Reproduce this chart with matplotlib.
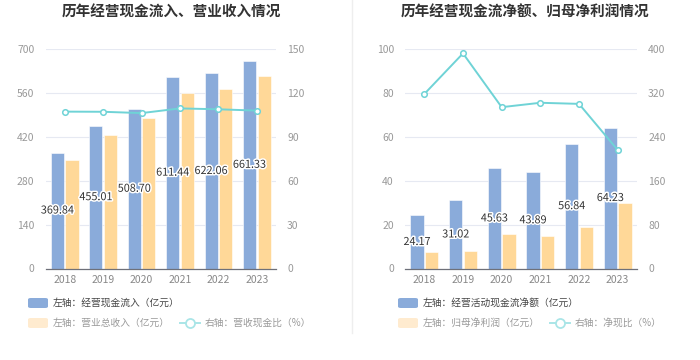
import matplotlib
matplotlib.use("Agg")
import matplotlib.pyplot as plt
import matplotlib.patheffects as pe
from matplotlib.patches import FancyBboxPatch
from matplotlib.lines import Line2D
import numpy as np

plt.rcParams['font.family'] = ['Noto Sans CJK SC', 'DejaVu Sans']

years = ['2018', '2019', '2020', '2021', '2022', '2023']
# left panel
cash_inflow = [369.84, 455.01, 508.70, 611.44, 622.06, 661.33]
revenue = [345, 425, 479, 559, 572, 613]
cash_rev_ratio = [107.2, 107.1, 106.2, 109.4, 108.8, 107.9]
# right panel
op_cash_net = [24.17, 31.02, 45.63, 43.89, 56.84, 64.23]
net_profit = [7.6, 7.9, 15.6, 14.6, 19.1, 30.0]
net_cash_ratio = [318, 392, 294, 302, 300, 216]

left_ticks = [0, 140, 280, 420, 560, 700]
left_rticks = [0, 30, 60, 90, 120, 150]
right_ticks = [0, 20, 40, 60, 80, 100]
right_rticks = [0, 80, 160, 240, 320, 400]

BLUE = '#8AABDA'
YELLOW = '#FFD898'
TEAL = '#6FD3D6'
GRID = '#E6E9F2'
TICK = '#999999'

fig = plt.figure(figsize=(7, 3.6), dpi=100)

W, H = 700, 360

def fx(px):
    return px / W

def fy(py):
    return 1 - py / H


def panel(x0, x1, title, bars_a, bars_b, line, lt, rt, title_x):
    ax = fig.add_axes([fx(x0), fy(268.5), fx(x1 - x0), fy(49) - fy(268.5)])
    ax2 = ax.twinx()
    x = np.arange(len(years))
    bw = 0.34
    off = 0.19
    ax.bar(x - off, bars_a, width=bw, color=BLUE, edgecolor='white', linewidth=0.4, zorder=2)
    ax.bar(x + off, bars_b, width=bw, color=YELLOW, edgecolor='white', linewidth=0.4, zorder=2)
    for xi, v in zip(x, bars_a):
        ax.text(xi - off, v / 2, f'{v:.2f}', ha='center', va='center', fontsize=7.8,
                color='#333333', zorder=5,
                path_effects=[pe.withStroke(linewidth=2.2, foreground='white')])
    ax.set_xlim(-0.5, len(years) - 0.5)
    ax.set_ylim(lt[0], lt[-1])
    ax.set_yticks(lt)
    ax.set_xticks(x)
    ax.set_xticklabels(years)
    ax2.plot(x, line, color=TEAL, linewidth=1.4, marker='o', markersize=4,
             markerfacecolor='white', markeredgecolor=TEAL, markeredgewidth=1.1, zorder=4)
    ax2.set_ylim(rt[0], rt[-1])
    ax2.set_yticks(rt)
    ax.set_zorder(ax2.get_zorder() - 1) if False else None
    ax.grid(axis='y', color=GRID, linewidth=0.8, zorder=0)
    ax.set_axisbelow(True)
    for a in (ax, ax2):
        for s in ['top', 'right', 'left']:
            a.spines[s].set_visible(False)
        a.spines['bottom'].set_visible(False)
        a.tick_params(axis='y', length=0, labelsize=7.5, labelcolor=TICK, pad=8)
    ax.spines['bottom'].set_visible(True)
    ax.spines['bottom'].set_color('#6E7079')
    ax.spines['bottom'].set_linewidth(0.9)
    ax.tick_params(axis='x', length=0, labelsize=7.5, labelcolor='#888888', pad=5)
    ax2.tick_params(axis='y', pad=8)
    fig.text(fx(title_x), fy(12), title, ha='center', va='center', fontsize=10.5,
             fontweight='bold', color='#333333')
    return ax, ax2


panel(45.5, 276, '历年经营现金流入、营业收入情况', cash_inflow, revenue, cash_rev_ratio,
      left_ticks, left_rticks, 171)
panel(405, 637, '历年经营现金流净额、归母净利润情况', op_cash_net, net_profit, net_cash_ratio,
      right_ticks, right_rticks, 525)

# divider
fig.add_artist(Line2D([fx(352), fx(352)], [fy(0), fy(333)], color='#EEEEEE', linewidth=1))


def legend(px, l1, l2, l3, lx):
    # row 1
    fig.add_artist(FancyBboxPatch((fx(px), fy(308)), fx(20), fy(298) - fy(308),
                                  boxstyle='round,pad=0,rounding_size=0.004',
                                  facecolor=BLUE, edgecolor='none'))
    fig.text(fx(px + 25), fy(303), l1, ha='left', va='center', fontsize=7, color='#444444')
    fig.add_artist(FancyBboxPatch((fx(px), fy(328)), fx(20), fy(318) - fy(328),
                                  boxstyle='round,pad=0,rounding_size=0.004',
                                  facecolor='#FFEBCF', edgecolor='none'))
    fig.text(fx(px + 25), fy(323), l2, ha='left', va='center', fontsize=7, color='#999999')
    fig.add_artist(Line2D([fx(lx), fx(lx + 20)], [fy(323), fy(323)], color='#A9E5E7',
                          linewidth=1.4))
    fig.add_artist(Line2D([fx(lx + 10)], [fy(323)], marker='o', markersize=6.5,
                          markerfacecolor='white', markeredgecolor='#A9E5E7',
                          markeredgewidth=1.3, linestyle='none'))
    fig.text(fx(lx + 25), fy(323), l3, ha='left', va='center', fontsize=7, color='#999999')


legend(28, '左轴：经营现金流入（亿元）', '左轴：营业总收入（亿元）', '右轴：营收现金比（%）', 180)
legend(398, '左轴：经营活动现金流净额（亿元）', '左轴：归母净利润（亿元）', '右轴：净现比（%）', 550)

fig.savefig('out.png', dpi=100, facecolor='white')
